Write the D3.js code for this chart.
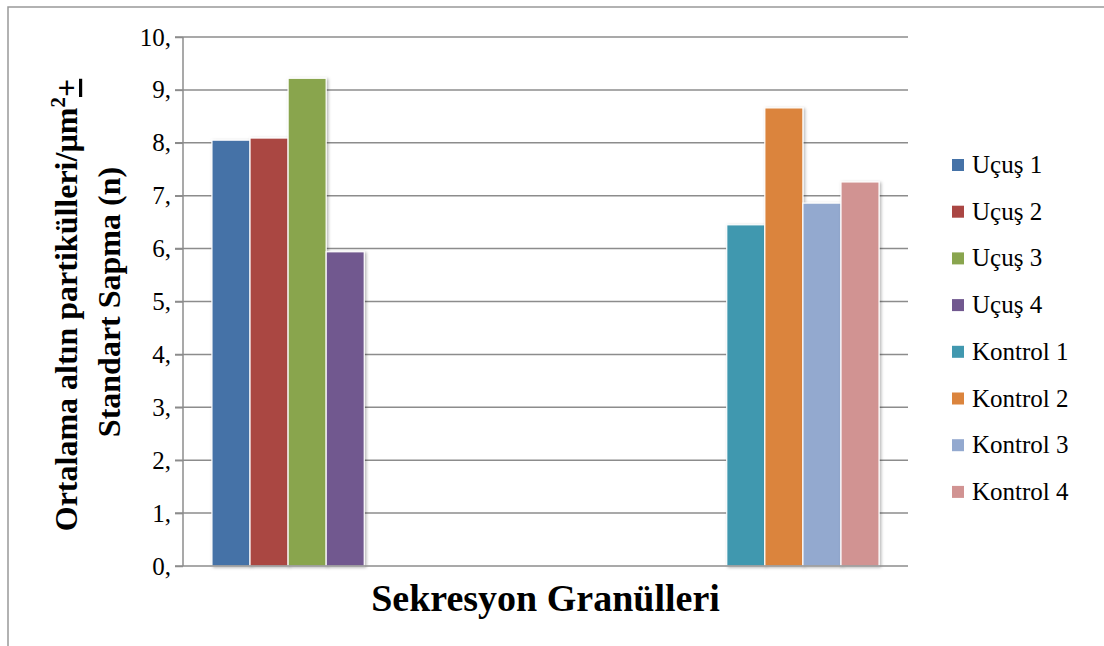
<!DOCTYPE html>
<html>
<head>
<meta charset="utf-8">
<script src="https://cdn.jsdelivr.net/npm/d3@7"></script>
</head>
<body style="margin:0">
<svg id="viz" width="1104" height="646" font-family="Times New Roman"></svg>
<script>
// data
var groups = ['Uçuş', 'Kontrol'];
var seriesNames = ['Uçuş 1', 'Uçuş 2', 'Uçuş 3', 'Uçuş 4', 'Kontrol 1', 'Kontrol 2', 'Kontrol 3', 'Kontrol 4'];
var seriesGroup = ['Uçuş', 'Uçuş', 'Uçuş', 'Uçuş', 'Kontrol', 'Kontrol', 'Kontrol', 'Kontrol'];
var seriesValues = [8.05, 8.09, 9.22, 5.94, 6.45, 8.66, 6.86, 7.26];
var seriesColors = ['#4572a7', '#aa4643', '#89a54e', '#71588f', '#4198af', '#db843d', '#93a9cf', '#d19392'];
var yTicks = [0, 1, 2, 3, 4, 5, 6, 7, 8, 9, 10];

var FONT = "'Times New Roman'";
var margin = { left: 183, right: 196, top: 37, bottom: 80 };
var width = 1104 - margin.left - margin.right;
var height = 646 - margin.top - margin.bottom;

var svg = d3.select('#viz');

// outer frame
svg.append('rect')
  .attr('x', 8).attr('y', 7)
  .attr('width', 1110).attr('height', 660)
  .attr('fill', 'none')
  .attr('stroke', '#999').attr('stroke-width', 1.5);

var defs = svg.append('defs');
defs.append('filter')
  .attr('id', 'shadow')
  .attr('x', '-20%').attr('y', '-5%').attr('width', '150%').attr('height', '115%')
  .append('feDropShadow')
  .attr('dx', 1.5).attr('dy', 1)
  .attr('stdDeviation', 1.5)
  .attr('flood-color', '#000')
  .attr('flood-opacity', 0.3);

var g = svg.append('g')
  .attr('transform', 'translate(' + margin.left + ',' + margin.top + ')');

var x0 = d3.scaleBand().domain(groups).range([0, width]).padding(0);
var x1 = d3.scaleBand().domain(seriesNames).range([0, x0.bandwidth()])
  .paddingInner(0).paddingOuter(0.76);
var y = d3.scaleLinear().domain([0, 10]).range([height, 0]);

// gridlines
g.append('g')
  .selectAll('line')
  .data(yTicks.slice(1))
  .enter()
  .append('line')
  .attr('x1', -8).attr('x2', width)
  .attr('y1', function (d) { return y(d); })
  .attr('y2', function (d) { return y(d); })
  .attr('stroke', '#8c8c8c').attr('stroke-width', 1.5);

// y axis
var yAxis = g.append('g')
  .call(d3.axisLeft(y).tickValues(yTicks).tickFormat(function (d) { return d + ','; })
    .tickSize(8).tickPadding(4))
  .attr('font-family', FONT)
  .attr('font-size', 25);
yAxis.selectAll('line').attr('stroke', '#8c8c8c').attr('stroke-width', 1.5);
yAxis.select('.domain').attr('stroke', '#8c8c8c').attr('stroke-width', 1.5).attr('d', 'M0,' + height + 'V0');
yAxis.selectAll('text')
  .attr('fill', '#000')
  .style('font-family', FONT)
  .style('font-size', '25px');

// bars
var table = seriesNames.map(function (name, i) {
  return { name: name, group: seriesGroup[i], value: seriesValues[i], color: seriesColors[i] };
});

g.selectAll('.bar')
  .data(table)
  .enter()
  .append('rect')
  .attr('class', 'bar')
  .attr('x', function (d) { return x0(d.group) + x1(d.name); })
  .attr('y', function (d) { return y(d.value); })
  .attr('width', x1.bandwidth())
  .attr('height', function (d) { return y(0) - y(d.value); })
  .attr('fill', function (d) { return d.color; })
  .attr('stroke', '#fff').attr('stroke-width', 1.2)
  .attr('filter', 'url(#shadow)');

// x axis line
g.append('line')
  .attr('x1', -8).attr('x2', width)
  .attr('y1', height).attr('y2', height)
  .attr('stroke', '#8c8c8c').attr('stroke-width', 1.5);

// axis titles
svg.append('text')
  .attr('x', margin.left + width / 2)
  .attr('y', 611)
  .attr('text-anchor', 'middle')
  .style('font-family', FONT)
  .style('font-weight', 'bold')
  .style('font-size', '38px')
  .text('Sekresyon Granülleri');

var yTitle = svg.append('text')
  .attr('transform', 'translate(77,305)rotate(-90)')
  .attr('text-anchor', 'middle')
  .style('font-family', FONT)
  .style('font-weight', 'bold')
  .style('font-size', '32px');
yTitle.append('tspan').text('Ortalama altın partikülleri/µm');
yTitle.append('tspan').attr('dy', -12).style('font-size', '21px').text('2');
yTitle.append('tspan').attr('dy', 12).style('text-decoration', 'underline').text('+');

svg.append('text')
  .attr('transform', 'translate(120,302)rotate(-90)')
  .attr('text-anchor', 'middle')
  .style('font-family', FONT)
  .style('font-weight', 'bold')
  .style('font-size', '32px')
  .text('Standart Sapma (n)');

// legend
var legend = svg.append('g')
  .selectAll('g')
  .data(table)
  .enter()
  .append('g')
  .attr('transform', function (d, i) { return 'translate(952,' + (165 + i * 46.7) + ')'; });

legend.append('rect')
  .attr('x', 0).attr('y', -6)
  .attr('width', 12).attr('height', 12)
  .attr('fill', function (d) { return d.color; });

legend.append('text')
  .attr('x', 20).attr('y', 8)
  .style('font-family', FONT)
  .style('font-size', '25px')
  .text(function (d) { return d.name; });
</script>
</body>
</html>
